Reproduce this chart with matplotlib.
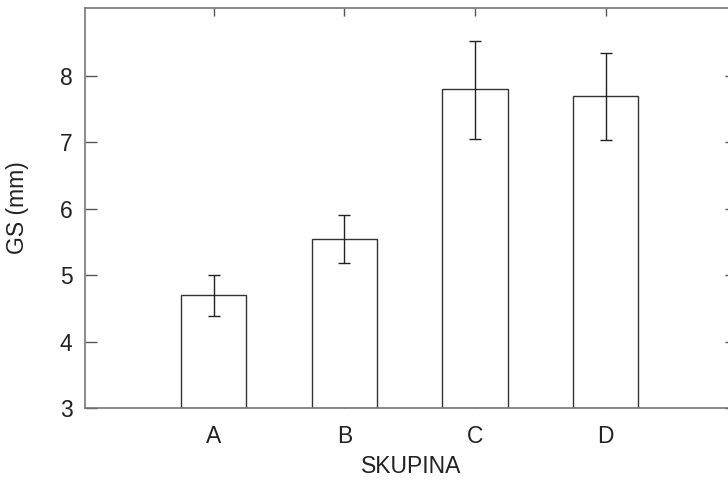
import matplotlib
matplotlib.use('Agg')
import matplotlib.pyplot as plt
import numpy as np

plt.rcParams['font.family'] = ['Liberation Sans', 'DejaVu Sans']

groups = ['A', 'B', 'C', 'D']
means = [4.70, 5.55, 7.80, 7.69]
err_lo = [0.31, 0.37, 0.75, 0.65]
err_hi = [0.30, 0.36, 0.73, 0.65]

fig = plt.figure(figsize=(7.28, 4.8), dpi=100)
# axes runs a bit past the right edge of the figure, like the original
ax = fig.add_axes([85 / 728, 72 / 480, 651.5 / 728, 400.5 / 480])

x = np.arange(1, len(groups) + 1)
ax.bar(x, [m - 3 for m in means], bottom=3, width=0.5, color='white',
       edgecolor='#333333', linewidth=1.0, zorder=2)
ax.errorbar(x, means, yerr=[err_lo, err_hi], fmt='none', ecolor='#222222',
            elinewidth=1.0, capsize=4, capthick=1.0, zorder=3)

ax.set_xlim(0.015, 5.0)
ax.set_ylim(3, 9.03)
ax.set_xticks(x)
ax.set_xticklabels(groups)
ax.set_yticks([3, 4, 5, 6, 7, 8])

for s in ax.spines.values():
    s.set_color('#777777')
    s.set_linewidth(1.2)

fs = 16.5
ax.tick_params(axis='y', direction='in', length=8.6, width=1, color='#555555',
               right=True, labelsize=fs, pad=9, labelcolor='#222222')
ax.tick_params(axis='x', direction='in', length=5.8, width=1, color='#555555',
               top=True, labelsize=fs, pad=12, labelcolor='#222222')

ax.set_xlabel('SKUPINA', fontsize=fs, color='#222222', labelpad=5)
ax.set_ylabel('GS (mm)', fontsize=fs, color='#222222', labelpad=22)

fig.savefig('out.png', dpi=100)
